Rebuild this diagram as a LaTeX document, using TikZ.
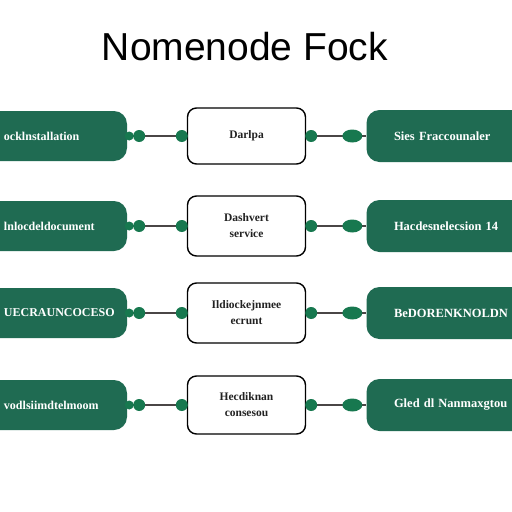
\documentclass[tikz,border=0pt]{standalone}
\usepackage{fontspec}
\usetikzlibrary{shapes.geometric}
\setmainfont{Liberation Serif}
\newfontfamily\titlefont{Liberation Sans}
\definecolor{boxgreen}{HTML}{1F6B52}
\definecolor{dotgreen}{HTML}{17784F}
\definecolor{linegray}{HTML}{4A4646}
\definecolor{textdark}{HTML}{222222}
\begin{document}
\begin{tikzpicture}[x=1pt,y=-1pt,
  greenbox/.style={fill=boxgreen, rounded corners=13pt, text=white, font=\fontsize{12.5}{14}\selectfont\bfseries, inner sep=0pt},
  whitebox/.style={draw=black, line width=1.4pt, fill=white, rounded corners=9pt, text=textdark, font=\fontsize{11.5}{14}\selectfont\bfseries, align=center, minimum width=118pt, inner sep=0pt},
  dotnode/.style={circle, fill=dotgreen, minimum size=12pt, inner sep=0pt},
  blobnode/.style={ellipse, fill=dotgreen, minimum width=20pt, minimum height=13pt, inner sep=0pt},
  conn/.style={draw=linegray, line width=2.6pt}]
\clip (0,0) rectangle (512,512);
\useasboundingbox (0,0) rectangle (512,512);
\fill[white] (0,0) rectangle (512,512);

\node[font=\titlefont\fontsize{39}{44}\selectfont] (title) at (245,47) {Nomenode Fock};

\foreach \r/\y/\lt/\ct/\rt/\ch in {
  1/136/{ocklnstallation}/{Darlpa}/{Sies Fraccounaler}/56,
  2/226/{lnlocdeldocument}/{Dashvert\\[2pt]service}/{Hacdesnelecsion 14}/60,
  3/313/{UECRAUNCOCESO}/{Ildiockejnmee\\[2pt]ecrunt}/{BeDORENKNOLDN}/60,
  4/405/{vodlsiimdtelmoom}/{Hecdiknan\\[2pt]consesou}/{Gled dl Nanmaxgtou}/58} {
  \node[greenbox, minimum width=160pt, minimum height=50pt, text width=154pt, align=left, font=\fontsize{12}{14}\selectfont\bfseries] (L\r) at (47,\y) {\hspace*{34pt}\lt};
  \node[greenbox, minimum width=175pt, minimum height=52pt, text width=160pt, align=left] (R\r) at (454,\y) {\hspace*{20pt}\rt};
  \node[whitebox, minimum height=\ch pt] (C\r) at (246.5,\y) {\ct};
  \coordinate (la\r) at ([xshift=2pt]L\r.east);
  \coordinate (lb\r) at ([xshift=-5pt]C\r.west);
  \coordinate (ra\r) at ([xshift=5pt]C\r.east);
  \coordinate (rb\r) at ([xshift=-14pt]R\r.west);
  \draw[conn] (L\r.east) -- (C\r.west);
  \draw[conn] (C\r.east) -- (R\r.west);
  \node[dotnode, minimum size=9pt] (ls\r) at (la\r) {};
  \node[dotnode] (ld\r) at ([xshift=12pt]L\r.east) {};
  \node[dotnode] (lc\r) at (lb\r) {};
  \node[dotnode] (rc\r) at (ra\r) {};
  \node[blobnode] (rd\r) at (rb\r) {};
}
\end{tikzpicture}
\end{document}
